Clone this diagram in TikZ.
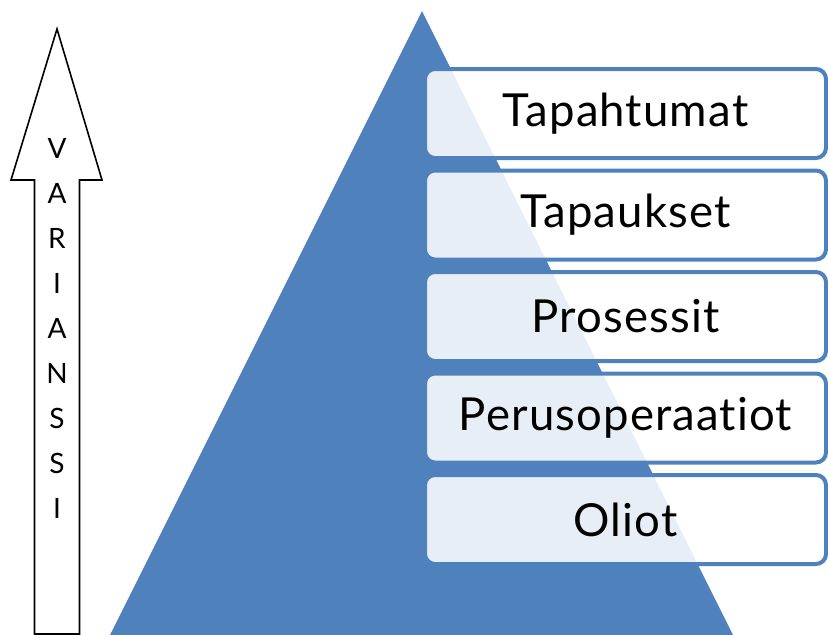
\documentclass[tikz,border=0pt]{standalone}
\usepackage{fontspec}
\setmainfont{Lato}
\newfontfamily\levelfont[LetterSpace=2.5,Ligatures={NoCommon,NoDiscretionary}]{Lato}
\begin{document}
\begin{tikzpicture}[x=1pt,y=-1pt,
  level/.style={draw=pyrblue, line width=4pt, fill=white, fill opacity=0.87,
    text opacity=1, rounded corners=10pt, minimum width=401pt, minimum height=89pt,
    inner sep=0pt, font=\levelfont\fontsize{45.5}{50}\selectfont},
  letter/.style={font=\fontsize{28}{30}\selectfont, inner sep=0pt}]
\definecolor{pyrblue}{HTML}{4F81BD}
\useasboundingbox (0,0) rectangle (828,635);

% pyramid
\fill[pyrblue] (422,11) -- (733,635) -- (110,635) -- cycle;

% levels of the pyramid
\foreach \t [count=\i from 0] in {Tapahtumat,Tapaukset,Prosessit,Perusoperaatiot,Oliot}
  \node[level] (lvl\i) at (625.5,{113.5+101.5*\i}) {\t};

% upward arrow
\draw[line width=1.6pt, line join=miter] (57,29) -- (102,180) -- (79.5,180) -- (79.5,634)
  -- (34.5,634) -- (34.5,180) -- (11,180) -- cycle;
\foreach \l [count=\i from 0] in {V,A,R,I,A,N,S,S,I}
  \node[letter] (v\i) at (57,{148+45*\i}) {\l};
\end{tikzpicture}
\end{document}
